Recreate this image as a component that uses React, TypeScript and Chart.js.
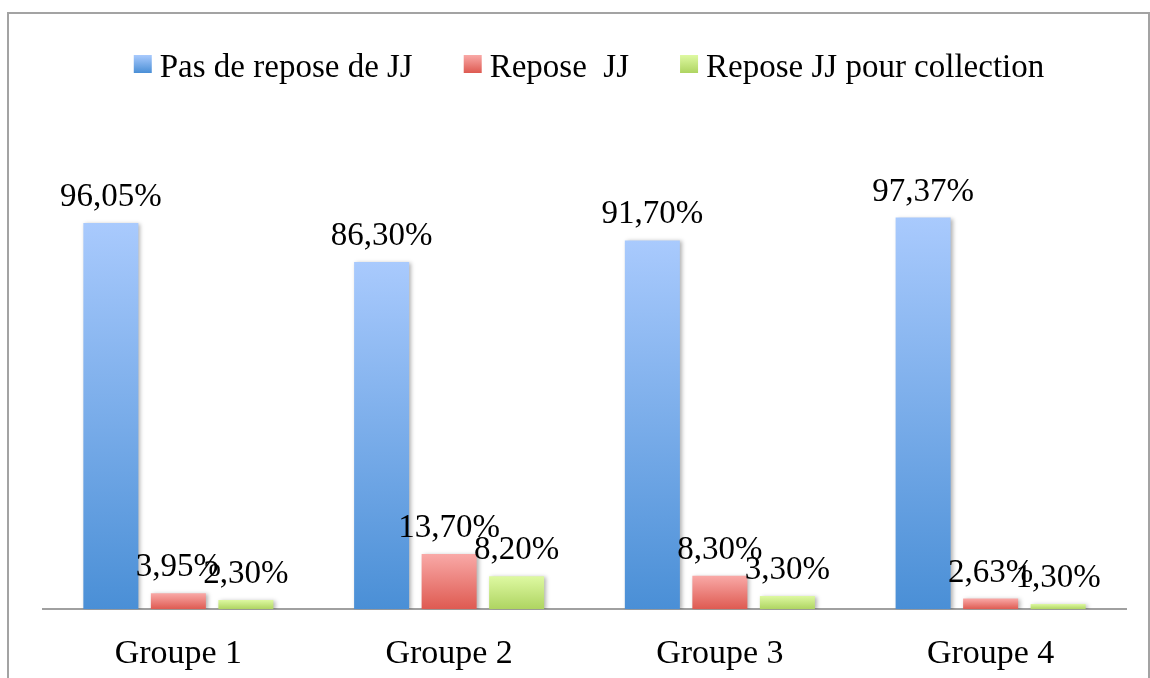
import React, { useEffect, useRef } from "react";
import { Chart, registerables } from "chart.js";

Chart.register(...registerables);

const categories = ["Groupe 1", "Groupe 2", "Groupe 3", "Groupe 4"];
const seriesNames = ["Pas de repose de JJ", "Repose  JJ", "Repose JJ pour collection"];
const pasDeRepose = [96.05, 86.3, 91.7, 97.37];
const repose = [3.95, 13.7, 8.3, 2.63];
const reposeCollection = [2.3, 8.2, 3.3, 1.3];
const yTicks = [0, 100];

const gradStops = [
  ["#a9cafd", "#4a8fd6"],
  ["#f9a9a7", "#de5a51"],
  ["#def9a2", "#aed461"],
];

const FONT = "'Liberation Serif', 'Times New Roman', serif";

function fmt(v: number) {
  return v.toFixed(2).replace(".", ",") + "%";
}

const valueLabels = {
  id: "valueLabels",
  afterDatasetsDraw(chart: any) {
    const ctx = chart.ctx;
    ctx.save();
    ctx.font = `33px ${FONT}`;
    ctx.fillStyle = "#000";
    ctx.textAlign = "center";
    ctx.textBaseline = "alphabetic";
    chart.data.datasets.forEach((ds: any, i: number) => {
      const meta = chart.getDatasetMeta(i);
      meta.data.forEach((el: any, j: number) => {
        ctx.fillText(fmt(ds.data[j]), el.x, el.y - 17);
      });
    });
    ctx.restore();
  },
};

const barShadow = {
  id: "barShadow",
  beforeDatasetsDraw(chart: any) {
    const ctx = chart.ctx;
    ctx.save();
    ctx.shadowColor = "rgba(0,0,0,0.3)";
    ctx.shadowBlur = 4;
    ctx.shadowOffsetX = 2;
    ctx.shadowOffsetY = 1;
  },
  afterDatasetsDraw(chart: any) {
    chart.ctx.restore();
  },
};

// Legend drawn on the canvas: gradient boxes + series names, centred above the plot.
const customLegend = {
  id: "customLegend",
  afterDraw(chart: any) {
    const ctx = chart.ctx;
    ctx.save();
    ctx.font = `33px ${FONT}`;
    ctx.textBaseline = "alphabetic";
    ctx.textAlign = "left";
    const box = 18;
    const gapBoxText = 8;
    const gapItems = 51;
    const widths = seriesNames.map((n) => ctx.measureText(n).width);
    const total =
      widths.reduce((a, b) => a + b, 0) + seriesNames.length * (box + gapBoxText) + gapItems * (seriesNames.length - 1);
    let x = 589 - total / 2;
    const boxTop = 55;
    const baseline = 77;
    seriesNames.forEach((n, k) => {
      const g = ctx.createLinearGradient(0, boxTop, 0, boxTop + box);
      g.addColorStop(0, gradStops[k][0]);
      g.addColorStop(1, gradStops[k][1]);
      ctx.fillStyle = g;
      ctx.fillRect(x, boxTop, box, box);
      x += box + gapBoxText;
      ctx.fillStyle = "#000";
      ctx.fillText(n, x, baseline);
      x += widths[k] + gapItems;
    });
    ctx.restore();
  },
};

export default function App() {
  const ref = useRef<HTMLCanvasElement>(null);
  useEffect(() => {
    if (!ref.current) return;
    const makeBg = (k: number) => (c: any) => {
      const chart = c.chart;
      const y = chart.scales && chart.scales.y;
      if (!chart.chartArea || !y || c.raw === undefined) return gradStops[k][1];
      const top = y.getPixelForValue(c.raw);
      const bottom = y.getPixelForValue(0);
      const g = chart.ctx.createLinearGradient(0, top, 0, bottom);
      g.addColorStop(0, gradStops[k][0]);
      g.addColorStop(1, gradStops[k][1]);
      return g;
    };
    const chart = new Chart(ref.current, {
      type: "bar",
      data: {
        labels: categories,
        datasets: [
          { label: seriesNames[0], data: pasDeRepose, backgroundColor: makeBg(0) },
          { label: seriesNames[1], data: repose, backgroundColor: makeBg(1) },
          { label: seriesNames[2], data: reposeCollection, backgroundColor: makeBg(2) },
        ],
      },
      options: {
        animation: false,
        responsive: false,
        maintainAspectRatio: false,
        layout: { padding: { left: 43, right: 24, top: 207, bottom: 0 } },
        datasets: {
          bar: { categoryPercentage: 0.748, barPercentage: 0.815 },
        },
        plugins: {
          tooltip: { enabled: false },
          legend: { display: false },
        },
        scales: {
          x: {
            grid: { display: false },
            border: { display: true, color: "#a0a0a0", width: 2 },
            ticks: { color: "#000", font: { family: FONT, size: 34 }, padding: 16 },
          },
          y: {
            display: false,
            min: yTicks[0],
            max: yTicks[1],
          },
        },
      },
      plugins: [barShadow, valueLabels, customLegend],
    });
    return () => chart.destroy();
  }, []);
  return (
    <>
      <div
        style={{
          position: "fixed",
          left: 7,
          top: 12,
          width: 1139,
          height: 720,
          border: "2px solid #a3a3a3",
        }}
      />
      <canvas
        ref={ref}
        width={1150}
        height={690}
        style={{ position: "fixed", left: 0, top: 0, width: 1150, height: 690 }}
      />
    </>
  );
}
